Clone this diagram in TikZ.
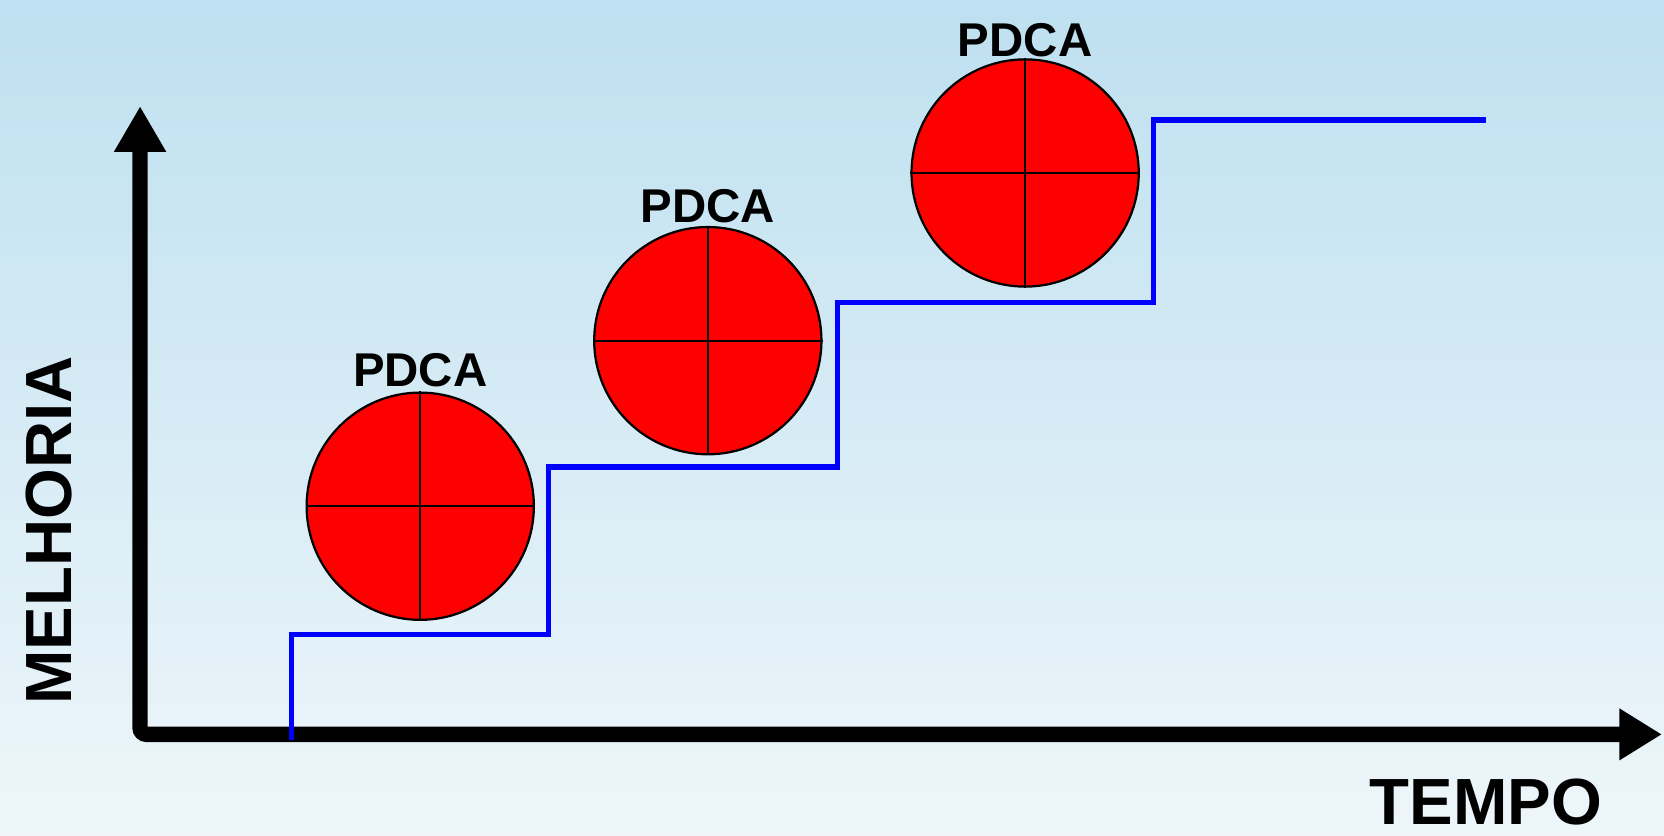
\documentclass[tikz,border=0pt]{standalone}
\usepackage{fontspec}
\setmainfont{Liberation Sans}
\usetikzlibrary{arrows.meta}
\definecolor{bgtop}{RGB}{190,224,240}
\definecolor{bgbot}{RGB}{238,246,250}
\definecolor{pdcared}{RGB}{255,0,0}
\definecolor{stepblue}{RGB}{0,0,255}
\begin{document}
\begin{tikzpicture}[x=0.01cm,y=-0.01cm,
  pdca/.style={circle,draw=black,line width=0.6pt,fill=pdcared,minimum size=2.14cm,inner sep=0pt},
  cross/.style={line width=0.45pt,draw=black},
  lbl/.style={font=\fontsize{12.7}{14}\selectfont\bfseries,inner sep=0pt},
  axislabel/.style={font=\fontsize{17.5}{20}\selectfont\bfseries,inner sep=0pt},
  axis/.style={line width=4.1pt,draw=black,rounded corners=0.06cm},
  stepline/.style={line width=1.4pt,draw=stepblue}]
\useasboundingbox (0,0) rectangle (1568,787);
\shade[top color=bgtop,bottom color=bgbot] (0,0) rectangle (1568,787);
% axes
\coordinate (ytip) at (132,100);
\coordinate (origin) at (132,692);
\coordinate (xtip) at (1566,692);
\draw[axis,{Triangle[length=0.43cm,width=0.46cm]}-{Triangle[length=0.4cm,width=0.46cm]}] (ytip) -- (origin) -- (xtip);
% circles
\node[pdca] (c1) at (396,477) {};
\node[pdca] (c2) at (667,321) {};
\node[pdca] (c3) at (966,163) {};
\foreach \c in {c1,c2,c3}{
  \draw[cross] (\c.north) -- (\c.south);
  \draw[cross] (\c.west) -- (\c.east);
}
% labels
\node[lbl] (l1) at (396,349) {PDCA};
\node[lbl] (l2) at (667,194) {PDCA};
\node[lbl] (l3) at (966,38) {PDCA};
\node[axislabel,rotate=90] (ylab) at (46,500) {MELHORIA};
\node[axislabel] (xlab) at (1400,756) {TEMPO};
% staircase
\coordinate (s0) at (275,697);
\coordinate (s1) at (275,598);
\coordinate (s2) at (517,598);
\coordinate (s3) at (517,440);
\coordinate (s4) at (789,440);
\coordinate (s5) at (789,285);
\coordinate (s6) at (1087,285);
\coordinate (s7) at (1087,113);
\coordinate (s8) at (1400,113);
\draw[stepline] (s0) -- (s1) -- (s2) -- (s3) -- (s4) -- (s5) -- (s6) -- (s7) -- (s8);
\end{tikzpicture}
\end{document}
